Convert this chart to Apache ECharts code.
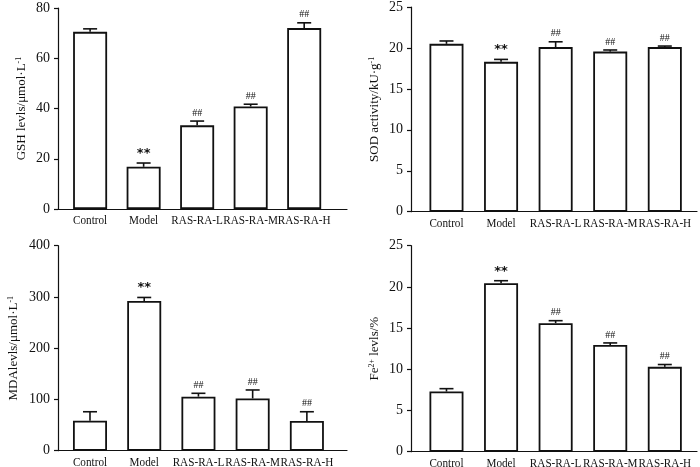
<!DOCTYPE html>
<html lang="en">
<head>
  <meta charset="UTF-8">
  <title>GSH SOD MDA Fe2+</title>
  <script src="https://cdn.jsdelivr.net/npm/echarts@6/dist/echarts.min.js"></script>
  <style>
    html, body { margin: 0; padding: 0; background: #fff; }
    #chart { width: 700px; height: 467px; }
  </style>
</head>
<body>
  <div id="chart"></div>
  <script>
    const categories = ['Control', 'Model', 'RAS-RA-L', 'RAS-RA-M', 'RAS-RA-H'];
    const marks = ['', '**', '##', '##', '##'];

    const gshMean = [70.5, 16.8, 33.3, 40.8, 72.0];
    const gshErr = [1.2, 1.5, 1.7, 0.9, 2.1];
    const sodMean = [20.5, 18.3, 20.1, 19.55, 20.1];
    const sodErr = [0.35, 0.3, 0.65, 0.2, 0.13];
    const mdaMean = [58.5, 292, 105.5, 102, 58];
    const mdaErr = [17.5, 7, 6.5, 16.5, 18];
    const feMean = [7.3, 20.45, 15.6, 12.95, 10.3];
    const feErr = [0.35, 0.3, 0.3, 0.25, 0.28];

    const font = 'Liberation Serif, Times New Roman, serif';
    const ink = '#111';

    const panels = [
      { grid: { left: 58, top: 8, width: 289, height: 201 }, xr: [-0.6, 4.8], max: 80, step: 20,
        name: '{a|GSH levls/μmol·L}{s|-1}', gap: 29, mean: gshMean, err: gshErr },
      { grid: { left: 411, top: 6.7, width: 286, height: 205 }, xr: [-0.65, 4.59], max: 25, step: 5,
        name: '{a|SOD activity/kU·g}{s|-1}', gap: 29, mean: sodMean, err: sodErr },
      { grid: { left: 58, top: 245.7, width: 289, height: 205 }, xr: [-0.59, 4.74], max: 400, step: 100,
        name: '{a|MDAlevls/μmol·L}{s|-1}', gap: 37, mean: mdaMean, err: mdaErr },
      { grid: { left: 411, top: 245.7, width: 286, height: 206 }, xr: [-0.65, 4.59], max: 25, step: 5,
        name: '{a|Fe}{s|2+}{a| levls/%}', gap: 29, mean: feMean, err: feErr }
    ];

    const grids = [], xAxes = [], yAxes = [], series = [];

    panels.forEach((p, i) => {
      grids.push(p.grid);
      // category labels are drawn by the custom series below (axis labels get culled when they nearly touch)
      xAxes.push({
        type: 'value', gridIndex: i, min: p.xr[0], max: p.xr[1],
        splitLine: { show: false },
        axisLine: { show: true, onZero: false, lineStyle: { color: ink, width: 1.2 } },
        axisTick: { show: false },
        axisLabel: { show: false }
      });
      yAxes.push({
        type: 'value', gridIndex: i, min: 0, max: p.max, interval: p.step,
        splitLine: { show: false },
        axisLine: { show: true, onZero: false, lineStyle: { color: ink, width: 1.2 } },
        axisTick: { show: true, length: 4, lineStyle: { color: ink, width: 1.2 } },
        axisLabel: { fontFamily: font, fontSize: 14, color: ink, margin: 8 },
        name: p.name, nameLocation: 'middle', nameRotate: 90, nameGap: p.gap,
        nameTextStyle: {
          rich: {
            a: { fontFamily: font, fontSize: 13, color: ink },
            s: { fontFamily: font, fontSize: 8, color: ink, verticalAlign: 'top', padding: [0, 0, 6, 0] }
          }
        }
      });

      series.push({
        type: 'bar', xAxisIndex: i, yAxisIndex: i, barWidth: 34,
        itemStyle: { color: '#fff', borderColor: ink, borderWidth: 1.8 },
        data: p.mean.map((v, k) => [k, v]),
        silent: true, animation: false
      });

      series.push({
        type: 'custom', xAxisIndex: i, yAxisIndex: i, silent: true, animation: false, clip: false,
        data: p.mean.map((v, k) => [k, v, p.err[k]]),
        renderItem: (params, api) => {
          const k = api.value(0);
          const top = api.coord([k, api.value(1) + api.value(2)]);
          const base = api.coord([k, api.value(1)]);
          const foot = api.coord([k, 0]);
          const mark = marks[k];
          const children = [
            { type: 'line', shape: { x1: base[0], y1: base[1], x2: top[0], y2: top[1] },
              style: { stroke: ink, lineWidth: 1.6 } },
            { type: 'line', shape: { x1: top[0] - 7, y1: top[1], x2: top[0] + 7, y2: top[1] },
              style: { stroke: ink, lineWidth: 1.6 } },
            // narrowed a bit so neighbours don't run into each other, like the condensed print
            { type: 'text', x: foot[0], y: foot[1] + 5, scaleX: 0.86,
              style: { text: categories[k], align: 'center', verticalAlign: 'top', fill: ink,
                       font: '13px ' + font } }
          ];
          if (mark) {
            const star = mark === '**';
            children.push({
              type: 'text', x: top[0], y: top[1] - 3,
              style: {
                text: mark, align: 'center', verticalAlign: 'bottom', fill: ink,
                font: star ? 'bold 13px DejaVu Sans, sans-serif' : '10px ' + font
              }
            });
          }
          return { type: 'group', children: children };
        }
      });
    });

    const chart = echarts.init(document.getElementById('chart'));
    chart.setOption({
      backgroundColor: '#fff',
      animation: false,
      grid: grids,
      xAxis: xAxes,
      yAxis: yAxes,
      series: series
    });
  </script>
</body>
</html>
